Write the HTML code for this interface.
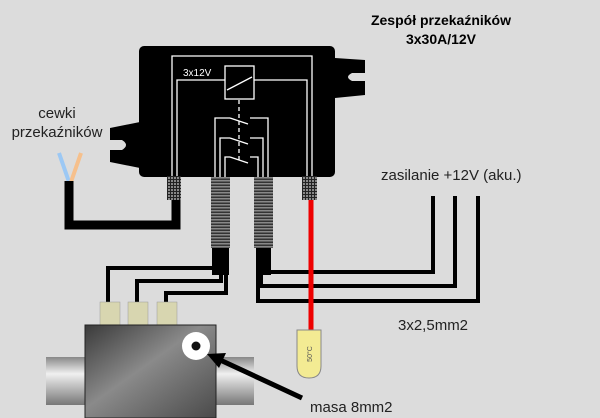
<!DOCTYPE html>
<html><head><meta charset="utf-8"><style>
html,body{margin:0;padding:0;background:#dcdcdc;}
svg{display:block}
text{font-family:"Liberation Sans",sans-serif;}
</style></head><body>
<svg width="600" height="418" viewBox="0 0 600 418" xmlns="http://www.w3.org/2000/svg">
<defs>
<linearGradient id="blk" x1="0" y1="0" x2="1" y2="1">
<stop offset="0" stop-color="#3a3a3a"/><stop offset="0.45" stop-color="#8a8a8a"/><stop offset="1" stop-color="#4a4a4a"/></linearGradient>
<linearGradient id="pipe" x1="0" y1="0" x2="0" y2="1">
<stop offset="0" stop-color="#888"/><stop offset="0.35" stop-color="#f0f0f0"/><stop offset="1" stop-color="#777"/></linearGradient>
<pattern id="grid" width="3" height="3" patternUnits="userSpaceOnUse"><rect width="3" height="3" fill="#222"/><rect width="2" height="2" fill="#888"/></pattern>
<pattern id="rib" width="4" height="3" patternUnits="userSpaceOnUse"><rect width="4" height="3" fill="#333"/><rect width="4" height="1.5" fill="#888"/></pattern>
</defs>
<rect width="600" height="418" fill="#dcdcdc"/>
<!-- titles -->
<text x="441" y="25" font-size="14" font-weight="bold" text-anchor="middle">Zespół przekaźników</text>
<text x="441" y="44" font-size="14" font-weight="bold" text-anchor="middle">3x30A/12V</text>
<text x="57" y="118" font-size="15" text-anchor="middle" fill="#222">cewki</text>
<text x="57" y="137" font-size="15" text-anchor="middle" fill="#222">przekaźników</text>
<text x="381" y="180" font-size="15" fill="#222">zasilanie +12V (aku.)</text>
<text x="398" y="330" font-size="15" fill="#222">3x2,5mm2</text>
<text x="310" y="412" font-size="15" fill="#222">masa 8mm2</text>
<!-- coil wires -->
<line x1="69" y1="182" x2="59" y2="153" stroke="#9cc8f4" stroke-width="4"/>
<line x1="71" y1="182" x2="81" y2="153" stroke="#f6c08c" stroke-width="4"/>
<polyline points="69,181 69,225 176,225 176,195" fill="none" stroke="#000" stroke-width="9"/>
<!-- tabs -->
<path d="M335,58 L365,60 L365,73 L352,73 Q344,77 352,81 L365,81 L365,95 L335,98 Z" fill="#000"/>
<path d="M140,122 L110,128 L110,140 L122,140 Q130,145 122,150 L110,150 L110,162 L140,168 Z" fill="#000"/>
<!-- relay box -->
<rect x="139" y="46" width="196" height="131" rx="5" fill="#000"/>
<g fill="none" stroke="#fff" stroke-width="1.3">
<polyline points="172,177 172,56 312,56 312,177"/>
<polyline points="177,177 177,80 225,80"/>
<polyline points="254,80 307,80 307,177"/>
<rect x="225" y="66" width="29" height="33"/>
<line x1="227" y1="90" x2="252" y2="77"/>
<line x1="239" y1="100" x2="239" y2="160" stroke-dasharray="4,3"/>
<polyline points="215,177 215,118 230,118"/><line x1="230" y1="118" x2="248" y2="124"/><polyline points="250,118 268,118 268,177"/>
<polyline points="220,177 220,138 230,138"/><line x1="230" y1="138" x2="248" y2="144"/><polyline points="250,138 263,138 263,177"/>
<polyline points="225,177 225,157 230,157"/><line x1="230" y1="157" x2="248" y2="163"/><polyline points="250,157 258,157 258,177"/>
</g>
<text x="183" y="76" font-size="10" fill="#fff">3x12V</text>
<!-- left harness to valve -->
<g fill="none" stroke="#000" stroke-width="4">
<polyline points="108,304 108,268 216,268 216,248"/>
<polyline points="137,304 137,281 221,281 221,248"/>
<polyline points="166,304 166,293 226,293 226,248"/>
</g>
<rect x="212" y="245" width="17" height="30" fill="#000"/>
<!-- right harness to power -->
<g fill="none" stroke="#000" stroke-width="4">
<polyline points="264,248 264,272 433,272 433,196"/>
<polyline points="261,248 261,286 455,286 455,196"/>
<polyline points="258,248 258,301 478,301 478,196"/>
</g>
<rect x="256" y="245" width="15" height="30" fill="#000"/>
<!-- red wire -->
<line x1="311" y1="199" x2="311" y2="332" stroke="#e00" stroke-width="5"/>
<line x1="306" y1="272" x2="316" y2="272" stroke="#000" stroke-width="0"/>
<!-- connectors -->
<rect x="167" y="176" width="14" height="24" fill="url(#grid)"/>
<rect x="302" y="176" width="15" height="24" fill="url(#grid)"/>
<rect x="211" y="177" width="19" height="71" fill="url(#rib)"/>
<rect x="254" y="177" width="19" height="71" fill="url(#rib)"/>
<!-- sensor -->
<path d="M297,330 L321,330 L321,366 Q321,378 309,378 Q297,378 297,366 Z" fill="#f3eb93" stroke="#888" stroke-width="1"/>
<text x="0" y="0" font-size="7" fill="#555" transform="translate(312,354) rotate(-90)" text-anchor="middle">50°C</text>
<!-- valve -->
<rect x="46" y="357" width="40" height="48" fill="url(#pipe)"/>
<rect x="214" y="357" width="40" height="48" fill="url(#pipe)"/>
<rect x="100" y="302" width="20" height="24" fill="#d8d6b0" stroke="#999" stroke-width="0.5"/>
<rect x="128" y="302" width="20" height="24" fill="#d8d6b0" stroke="#999" stroke-width="0.5"/>
<rect x="157" y="302" width="20" height="24" fill="#d8d6b0" stroke="#999" stroke-width="0.5"/>
<rect x="85" y="325" width="131" height="93" fill="url(#blk)" stroke="#222" stroke-width="1"/>
<circle cx="196" cy="346" r="14" fill="#fff"/>
<circle cx="196" cy="346" r="4.5" fill="#111"/>
<line x1="302" y1="398" x2="218" y2="359" stroke="#000" stroke-width="5"/>
<polygon points="207,354 226,353 219,368" fill="#000"/>
</svg>
</body></html>
